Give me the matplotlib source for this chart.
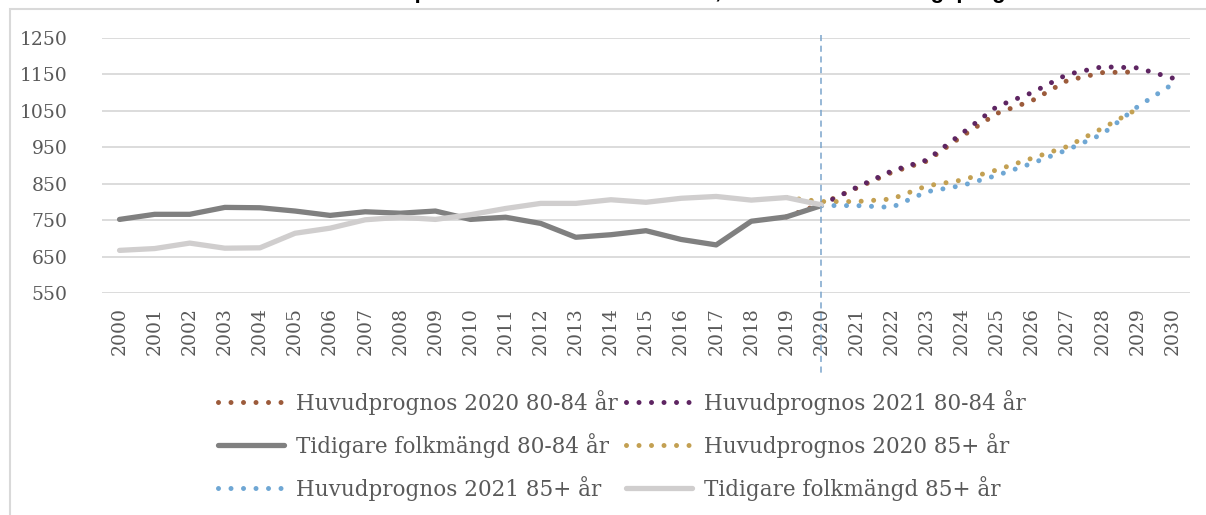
import numpy as np
import matplotlib.pyplot as plt
from matplotlib.patches import Rectangle

# data
years = [str(y) for y in range(2000, 2031)]

tid_80_84 = [752, 766, 766, 785, 784, 775, 763, 773, 769, 775, 752, 758,
             741, 703, 710, 721, 697, 682, 747, 759, 790]
tid_85 = [667, 672, 687, 673, 674, 714, 728, 751, 758, 752, 765, 782,
          796, 796, 806, 799, 810, 815, 805, 812, 792]

# Huvudprognos 2020: 2019-2029, Huvudprognos 2021: 2020-2030
h2020_80_84 = [759, 795, 838, 881, 912, 980, 1043, 1078, 1133, 1155, 1157]
h2021_80_84 = [792, 840, 885, 915, 988, 1062, 1100, 1150, 1171, 1168, 1140]
h2020_85 = [812, 801, 801, 808, 844, 860, 888, 920, 952, 1002, 1055]
h2021_85 = [790, 790, 785, 828, 845, 873, 906, 943, 986, 1061, 1123]

labels = ['Huvudprognos 2020 80-84 år', 'Huvudprognos 2021 80-84 år',
          'Tidigare folkmängd 80-84 år', 'Huvudprognos 2020 85+ år',
          'Huvudprognos 2021 85+ år', 'Tidigare folkmängd 85+ år']

c_brown = '#9c5b3b'
c_purple = '#5e2562'
c_dgray = '#808080'
c_gold = '#c3a052'
c_blue = '#6fa7d4'
c_lgray = '#d0cece'
txt = '#595959'

fig = plt.figure(figsize=(12.06, 5.15), dpi=100)
ax = fig.add_axes([102 / 1206, 1 - 293 / 515, 1088 / 1206, 255 / 515])

x = np.arange(len(years))
x_hist = x[:21]
x_p20 = x[19:30]
x_p21 = x[20:31]

dot = dict(linestyle=(0, (0.001, 2.5)), dash_capstyle='round', linewidth=3.6)
solid = dict(linewidth=3.8, solid_capstyle='round', solid_joinstyle='round')

l1, = ax.plot(x_p20, h2020_80_84, color=c_brown, **dot)
l2, = ax.plot(x_p21, h2021_80_84, color=c_purple, **dot)
l3, = ax.plot(x_hist, tid_80_84, color=c_dgray, **solid)
l4, = ax.plot(x_p20, h2020_85, color=c_gold, **dot)
l5, = ax.plot(x_p21, h2021_85, color=c_blue, **dot)
l6, = ax.plot(x_hist, tid_85, color=c_lgray, **solid)

ax.set_xlim(-0.5, 30.5)
ax.set_ylim(550, 1250)
ax.set_yticks(np.arange(550, 1251, 100))
ax.set_xticks(x)
ax.set_xticklabels(years, rotation=90)
ax.grid(axis='y', color='#d9d9d9', linewidth=1.3)
ax.set_axisbelow(True)
for s in ax.spines.values():
    s.set_visible(False)
ax.tick_params(length=0, labelsize=13.5, labelcolor=txt)
ax.tick_params(axis='y', pad=25)
ax.tick_params(axis='x', pad=10)
for t in ax.get_xticklabels() + ax.get_yticklabels():
    t.set_family('DejaVu Serif')

# dashed marker at 2020
ax.plot([20, 20], [1.012, -0.325], color='#7ba4cc', linewidth=1.1,
        linestyle=(0, (4, 3)), transform=ax.get_xaxis_transform(),
        clip_on=False, zorder=5)

# chart frame
fig.patches.append(Rectangle((10 / 1206, -0.1), 1.2, 1 - 9 / 515 + 0.1,
                             transform=fig.transFigure, fill=False,
                             edgecolor='#d9d9d9', linewidth=1.5))

# title, mostly above the visible area as in the reference
fig.text(1045 / 1206, 1 + 2 / 515,
         'Antal personer 80-84 år och 85+ år, utfall och befolkningsprognos',
         ha='right', va='baseline', fontsize=16, fontweight='bold',
         family='Liberation Sans', color='black')

# legend, row-major in the reference -> reorder for column-major fill
handles = [l1, l3, l5, l2, l4, l6]
labs = [labels[0], labels[2], labels[4], labels[1], labels[3], labels[5]]
leg = fig.legend(handles, labs, ncol=2, loc='upper left',
                 bbox_to_anchor=(218 / 1206, 1 - 390 / 515),
                 frameon=False, borderpad=0, borderaxespad=0,
                 handlelength=3.07, handletextpad=0.56, columnspacing=0.37,
                 labelspacing=0.83, prop={'family': 'DejaVu Serif', 'size': 15.5})
for t in leg.get_texts():
    t.set_color(txt)

fig.savefig('out.png', dpi=100)
